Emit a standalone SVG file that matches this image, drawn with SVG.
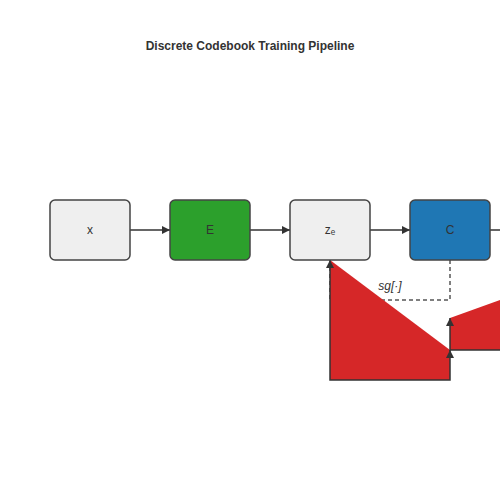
<svg xmlns="http://www.w3.org/2000/svg" width="500" height="500" viewBox="0 0 500 500">
<defs>
<marker id="arrow" viewBox="0 0 10 10" refX="10" refY="5" markerWidth="8" markerHeight="8" markerUnits="userSpaceOnUse" orient="auto-start-reverse">
<path d="M0,0 L10,5 L0,10 z" fill="#333"/>
</marker>
<style>
.node rect{stroke:#444;stroke-width:1.5}
.lbl{font-family:"Liberation Sans",Arial,sans-serif;font-size:12px;fill:#333;text-anchor:middle}
.edge{stroke:#333;stroke-width:1.5;fill:none}
.loss{stroke:#333;stroke-width:1.5;fill:#d62728}
.dash{stroke:#555;stroke-width:1.5;fill:none;stroke-dasharray:4,3}
</style>
</defs>
<rect width="500" height="500" fill="#fff"/>
<text x="250" y="50" class="lbl" style="font-weight:bold">Discrete Codebook Training Pipeline</text>
<g id="connectors">
<path class="edge" d="M130,230 L170,230" marker-end="url(#arrow)"/>
<path class="edge" d="M250,230 L290,230" marker-end="url(#arrow)"/>
<path class="edge" d="M370,230 L410,230" marker-end="url(#arrow)"/>
<path class="edge" d="M490,230 L530,230"/>
<path class="dash" d="M450,260 L450,300 L330,300 L330,262"/>
<path class="loss" d="M450,350 L450,380 L330,380 L330,260" marker-start="url(#arrow)" marker-end="url(#arrow)"/>
<path class="loss" d="M610,260 L610,350 L450,350 L450,318" marker-end="url(#arrow)"/>
<text x="390" y="290" class="lbl" style="font-style:italic">sg[·]</text>
</g>
<g id="node-x" class="node">
<rect x="50" y="200" width="80" height="60" rx="5" fill="#efefef"/>
<text x="90" y="234" class="lbl">x</text>
</g>
<g id="node-E" class="node">
<rect x="170" y="200" width="80" height="60" rx="5" fill="#2ca02c"/>
<text x="210" y="234" class="lbl">E</text>
</g>
<g id="node-ze" class="node">
<rect x="290" y="200" width="80" height="60" rx="5" fill="#efefef"/>
<text x="330" y="234" class="lbl">zₑ</text>
</g>
<g id="node-C" class="node">
<rect x="410" y="200" width="80" height="60" rx="5" fill="#1f77b4"/>
<text x="450" y="234" class="lbl">C</text>
</g>
</svg>
